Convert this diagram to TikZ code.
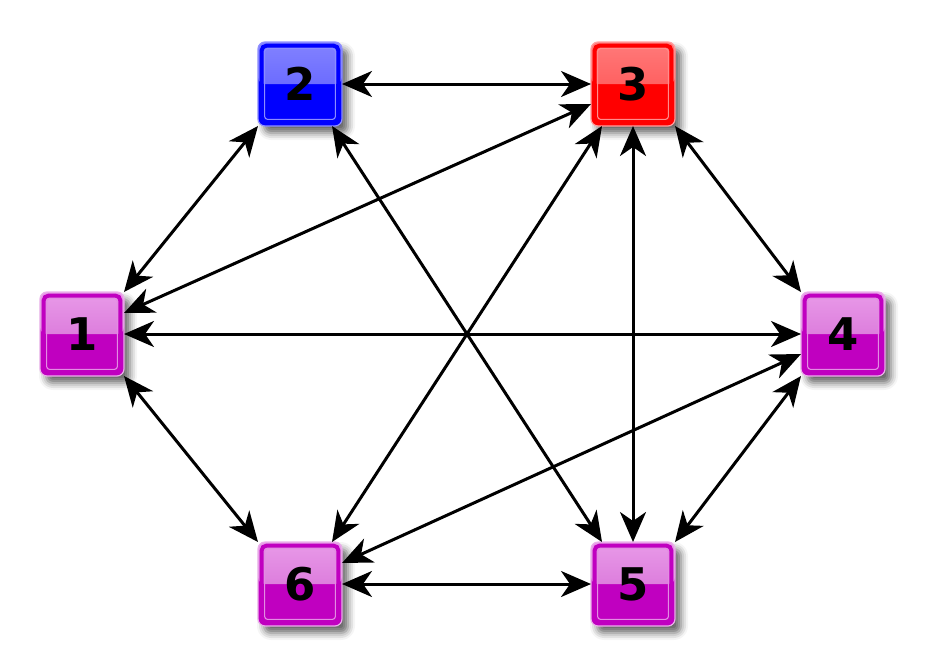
\documentclass[tikz,border=0pt]{standalone}
\usepackage{fontspec}
\setmainfont{DejaVu Sans}
\usetikzlibrary{arrows.meta,shadows.blur}
\definecolor{cblue}{HTML}{0000FF}
\definecolor{cbluetop}{HTML}{8282FF}
\definecolor{cbluemid}{HTML}{5656FF}
\definecolor{cblueedge}{HTML}{9090FF}
\definecolor{cred}{HTML}{FF0000}
\definecolor{credtop}{HTML}{FF7A7A}
\definecolor{credmid}{HTML}{FF4848}
\definecolor{crededge}{HTML}{FFA0A0}
\definecolor{cmag}{HTML}{C000C0}
\definecolor{cmagtop}{HTML}{E89AE8}
\definecolor{cmagmid}{HTML}{D262D2}
\definecolor{cmagedge}{HTML}{EAB0EA}
\tikzset{
  nbox/.style={minimum width=84pt, minimum height=84pt, inner sep=0pt, outer sep=0pt,
    rounded corners=7pt, fill=c#1, draw=c#1edge, line width=1.2pt,
    font=\bfseries\fontsize{45}{45}\selectfont, text=black,
    blur shadow={shadow xshift=6pt, shadow yshift=-7pt, shadow blur radius=7pt, shadow opacity=60},
    path picture={
      \fill[top color=c#1top, bottom color=c#1mid]
        (path picture bounding box.north west) rectangle (path picture bounding box.east);
      \draw[c#1, line width=4pt, rounded corners=5pt]
        ([shift={(3.6pt,-3.6pt)}]path picture bounding box.north west) rectangle
        ([shift={(-3.6pt,3.6pt)}]path picture bounding box.south east);
      \draw[white!55!c#1, line width=1.1pt, rounded corners=3pt]
        ([shift={(6.6pt,-6.6pt)}]path picture bounding box.north west) rectangle
        ([shift={(-6.6pt,6.6pt)}]path picture bounding box.south east);
    }},
  link/.style={line width=3pt, draw=black,
    {Stealth[length=30pt,width=26pt,inset=9pt]}-{Stealth[length=30pt,width=26pt,inset=9pt]}}
}
\begin{document}
\begin{tikzpicture}[x=1pt,y=-1pt]
\useasboundingbox (0,0) rectangle (928,667);
\node[nbox=blue] (n2) at (300,84) {2};
\node[nbox=red]  (n3) at (633,84) {3};
\node[nbox=mag]  (n1) at (82,334) {1};
\node[nbox=mag]  (n4) at (843,334) {4};
\node[nbox=mag]  (n6) at (300,584) {6};
\node[nbox=mag]  (n5) at (633,584) {5};
\draw[link] (n1.north east) -- (n2.south west);
\draw[link] (n2.east) -- (n3.west);
\draw[link] (n3.south east) -- (n4.north west);
\draw[link] (n4.south west) -- (n5.north east);
\draw[link] (n6.east) -- (n5.west);
\draw[link] (n1.south east) -- (n6.north west);
\draw[link] (n1.east) -- (n4.west);
\draw[link] (n3.south) -- (n5.north);
\draw[link] ([xshift=32pt]n2.south) -- ([xshift=-31pt]n5.north);
\draw[link] ([xshift=-31pt]n3.south) -- ([xshift=32pt]n6.north);
\draw[link] ([yshift=21pt]n1.east) -- ([yshift=-20pt]n3.west);
\draw[link] ([yshift=-20pt]n4.west) -- ([yshift=21pt]n6.east);
\end{tikzpicture}
\end{document}
